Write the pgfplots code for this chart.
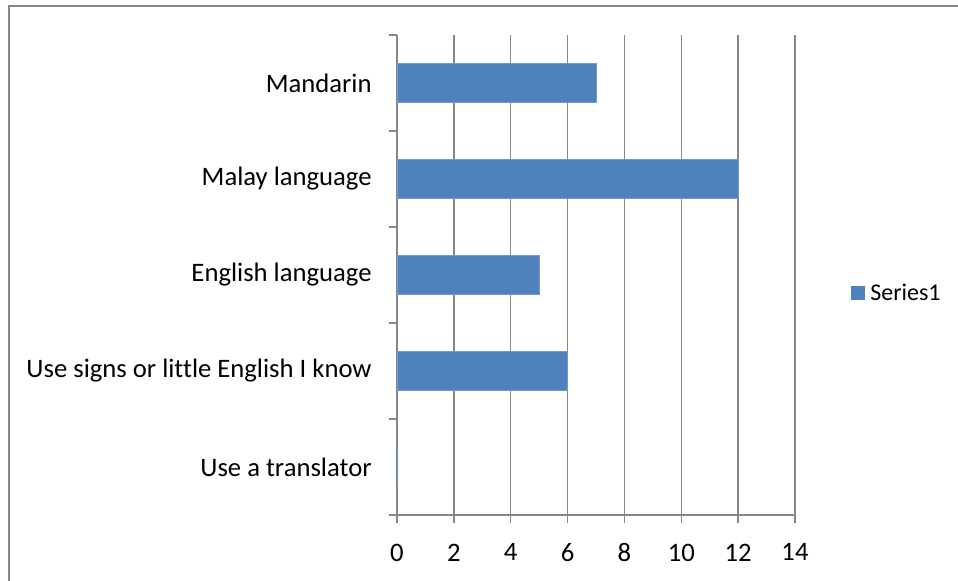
\documentclass[border=0pt]{standalone}
\usepackage{fontspec}
\setmainfont{Carlito}[Ligatures=NoCommon]
\usepackage{pgfplots}
\pgfplotsset{compat=1.18}
\definecolor{barblue}{HTML}{4F81BD}
\definecolor{gridgray}{HTML}{868686}
\begin{document}
\begin{tikzpicture}[font=\fontsize{20}{24}\selectfont]
\path[use as bounding box] (0,0) rectangle (718.5pt,-435.75pt);
\draw[gridgray, line width=1.3pt] (6.75pt,-436pt) -- (6.75pt,-4.5pt) -- (718.5pt,-4.5pt);
\begin{axis}[
  at={(297.75pt,-386.25pt)}, anchor=south west,
  width=298.5pt, height=360pt, scale only axis,
  xbar, bar width=0.4,
  xmin=0, xmax=14, xtick={0,2,...,14},
  ymin=-0.5, ymax=4.5, ytick={-0.5,0.5,...,4.5}, yticklabels={},
  extra y ticks={0,1,2,3,4},
  extra y tick labels={Use a translator, Use signs or little English I know, English language, Malay language, Mandarin},
  extra y tick style={major tick length=0pt, grid=none, yticklabel style={xshift=-15.5pt}},
  xticklabel style={yshift=-12pt},
  axis x line*=bottom, axis y line*=left,
  xmajorgrids,
  grid style={gridgray, line width=1.1pt},
  axis line style={gridgray, line width=1.1pt},
  tick style={gridgray, line width=1.1pt},
  major tick length=6pt,
  tick align=outside,
  /pgf/number format/assume math mode=true,
  tick label style={font=\fontsize{20}{24}\selectfont, text=black},
  legend style={at={(1.14,0.4625)}, anchor=west, draw=none, fill=none, font=\fontsize{18}{22}\selectfont, inner sep=0pt},
  legend image code/.code={\fill[barblue] (0pt,-5pt) rectangle (10pt,5pt);},
  legend cell align=left,
  legend style={nodes={inner xsep=4pt}},
]
\addplot[fill=barblue, draw=barblue!80!white, line width=0.5pt] coordinates {(0,0) (6,1) (5,2) (12,3) (7,4)};
\addlegendentry{Series1}
\end{axis}
\end{tikzpicture}
\end{document}
